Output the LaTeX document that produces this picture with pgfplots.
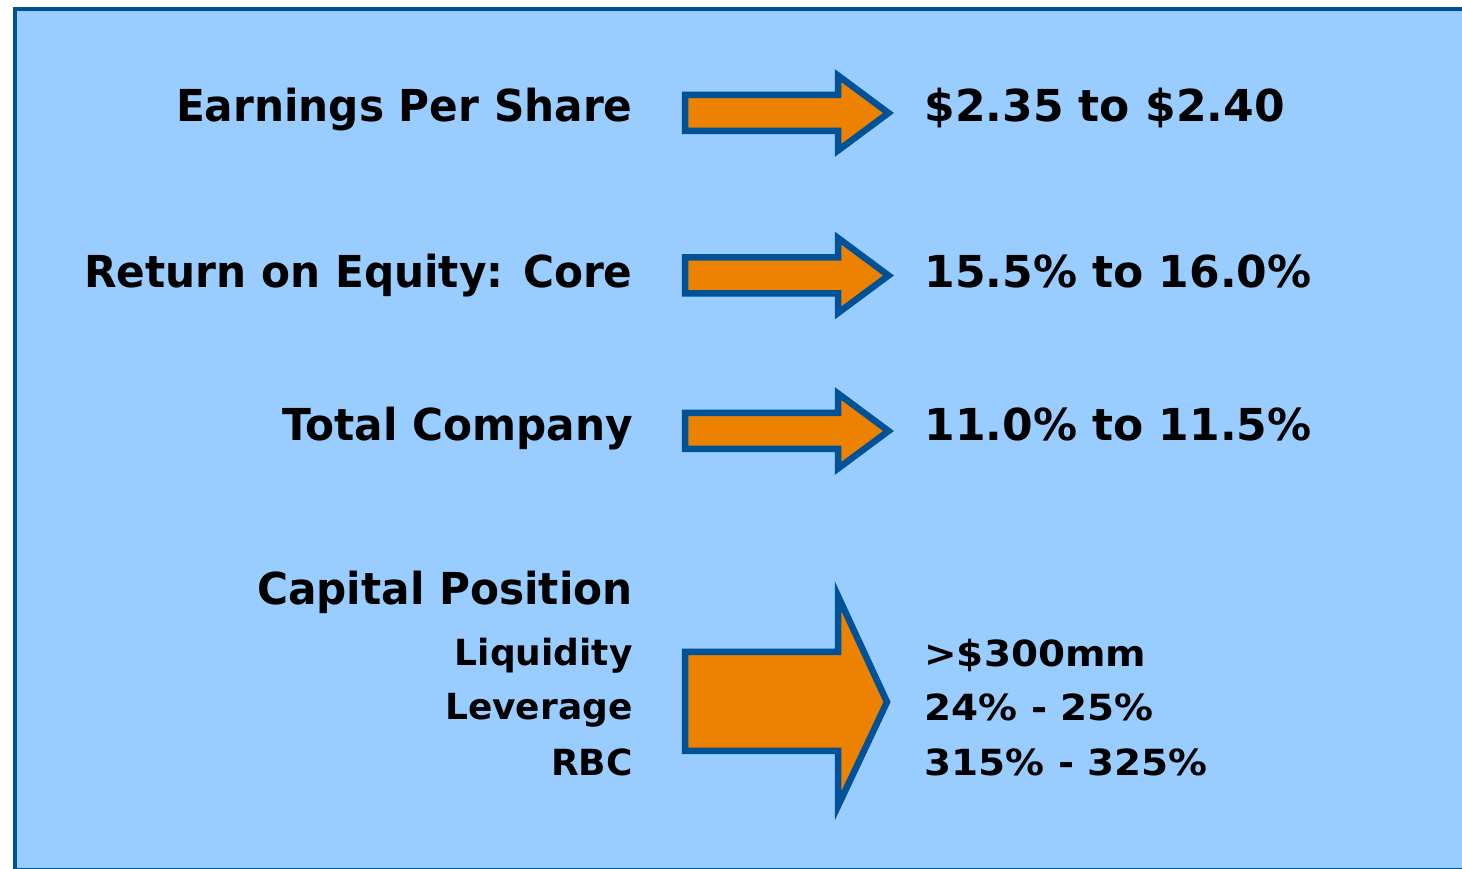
\documentclass[border=0pt]{standalone}
\usepackage{fontspec}
\setmainfont{DejaVu Sans}
\usepackage{pgfplots}
\pgfplotsset{compat=1.18}
\definecolor{bgblue}{RGB}{153,204,255}
\definecolor{frameblue}{RGB}{0,82,152}
\definecolor{arrorange}{RGB}{237,130,0}
\newfontfamily\labfont[FakeStretch=0.96]{DejaVu Sans}
\newfontfamily\smallvalfont[FakeStretch=1.08]{DejaVu Sans}
\begin{document}
\begin{tikzpicture}
\begin{axis}[
  scale only axis, width=731pt, height=434pt,
  xmin=0, xmax=1462, ymin=0, ymax=868,
  hide axis, clip=true,
]
% white page
\addplot[fill=white, draw=none] coordinates {(0,0) (1462,0) (1462,868) (0,868)} -- cycle;
% frame
\addplot[fill=bgblue, draw=frameblue, line width=2pt] coordinates {(14.5,-2) (14.5,858.5) (1480,858.5) (1480,-2)} -- cycle;
% arrows
\addplot[fill=arrorange, draw=frameblue, line width=3.25pt, line join=miter, miter limit=10] coordinates {(685,773) (838,773) (838,792.5) (888.5,755) (838,717.5) (838,737) (685,737)} -- cycle;
\addplot[fill=arrorange, draw=frameblue, line width=3.25pt, line join=miter, miter limit=10] coordinates {(685,610.5) (838,610.5) (838,630) (888.5,592.5) (838,555) (838,574.5) (685,574.5)} -- cycle;
\addplot[fill=arrorange, draw=frameblue, line width=3.25pt, line join=miter, miter limit=10] coordinates {(685,455) (838,455) (838,474.5) (888.5,437) (838,399.5) (838,419) (685,419)} -- cycle;
\addplot[fill=arrorange, draw=frameblue, line width=3.25pt, line join=miter, miter limit=10] coordinates {(685,216) (838,216) (838,272) (887,166) (838,62) (838,117) (685,117)} -- cycle;
% labels
\node[anchor=base east, inner sep=0pt, font=\labfont\bfseries\fontsize{22}{26}\selectfont] at (axis cs:633,746) {Earnings Per Share};
\node[anchor=base east, inner sep=0pt, font=\labfont\bfseries\fontsize{22}{26}\selectfont] at (axis cs:633,580) {Return on Equity: Core};
\node[anchor=base east, inner sep=0pt, font=\labfont\bfseries\fontsize{22}{26}\selectfont] at (axis cs:633,427) {Total Company};
\node[anchor=base east, inner sep=0pt, font=\labfont\bfseries\fontsize{22}{26}\selectfont] at (axis cs:633,263) {Capital Position};
\node[anchor=base east, inner sep=0pt, font=\bfseries\fontsize{18}{22}\selectfont] at (axis cs:633,202) {Liquidity};
\node[anchor=base east, inner sep=0pt, font=\bfseries\fontsize{18}{22}\selectfont] at (axis cs:633,148) {Leverage};
\node[anchor=base east, inner sep=0pt, font=\bfseries\fontsize{18}{22}\selectfont] at (axis cs:633,93) {RBC};
% values
\node[anchor=base west, inner sep=0pt, font=\bfseries\fontsize{22}{26}\selectfont] at (axis cs:924,746) {\$2.35 to \$2.40};
\node[anchor=base west, inner sep=0pt, font=\bfseries\fontsize{22}{26}\selectfont] at (axis cs:924,580) {15.5\% to 16.0\%};
\node[anchor=base west, inner sep=0pt, font=\bfseries\fontsize{22}{26}\selectfont] at (axis cs:924,427) {11.0\% to 11.5\%};
\node[anchor=base west, inner sep=0pt, font=\smallvalfont\bfseries\fontsize{18}{22}\selectfont] at (axis cs:924,201) {>\$300mm};
\node[anchor=base west, inner sep=0pt, font=\smallvalfont\bfseries\fontsize{18}{22}\selectfont] at (axis cs:924,147) {24\% - 25\%};
\node[anchor=base west, inner sep=0pt, font=\smallvalfont\bfseries\fontsize{18}{22}\selectfont] at (axis cs:924,93) {315\% - 325\%};
\end{axis}
\end{tikzpicture}
\end{document}
